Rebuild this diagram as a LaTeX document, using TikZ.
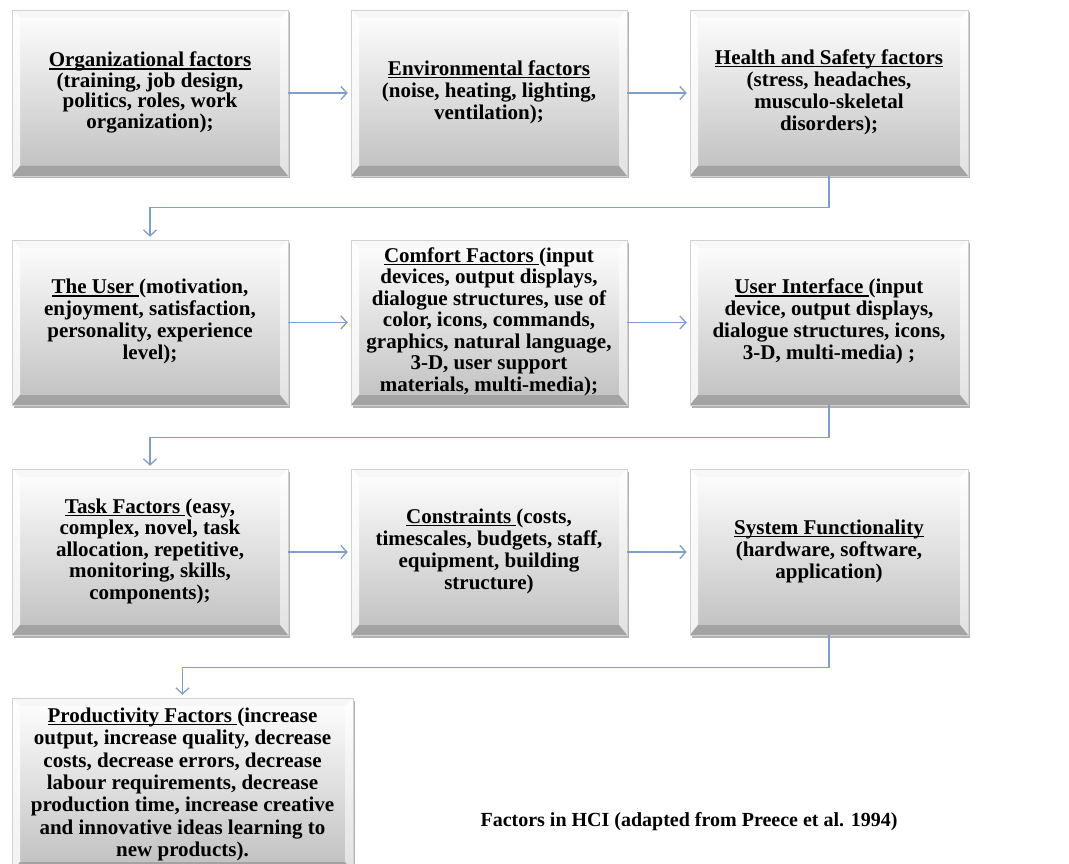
\documentclass[tikz,border=0pt]{standalone}
\usepackage{fontspec}
\setmainfont{Liberation Serif}
\usetikzlibrary{arrows.meta,shadows}
\definecolor{flow}{RGB}{128,158,204}

% underlined heading with a heavy rule
\newcommand\ulin[1]{\setbox0\hbox{#1}\rlap{\rule[-3pt]{\wd0}{1.5pt}}\box0}
% centred block of bold lines, #1 = line spacing in pt
\newcommand\boxlines[2]{{\fontsize{21}{#1}\selectfont\bfseries\begin{tabular}{@{}c@{}}#2\end{tabular}}}

\tikzset{
  bevelbox/.style={
    rectangle, inner sep=0pt, draw=gray!35, line width=0.5pt,
    top color=white, bottom color=gray!50,
    drop shadow={shadow xshift=1.5pt, shadow yshift=-2.5pt, fill=black, opacity=0.3},
    path picture={
      \coordinate (pnw) at (path picture bounding box.north west);
      \coordinate (pne) at (path picture bounding box.north east);
      \coordinate (psw) at (path picture bounding box.south west);
      \coordinate (pse) at (path picture bounding box.south east);
      % top bevel
      \fill[gray!6] (pnw) -- (pne) -- ([shift={(-8pt,-8pt)}]pne) -- ([shift={(8pt,-8pt)}]pnw) -- cycle;
      % left bevel
      \fill[white,opacity=0.8] (pnw) -- ([shift={(8pt,-8pt)}]pnw) -- ([shift={(8pt,10pt)}]psw) -- (psw) -- cycle;
      % right bevel
      \fill[white,opacity=0.55] (pne) -- (pse) -- ([shift={(-8pt,10pt)}]pse) -- ([shift={(-8pt,-8pt)}]pne) -- cycle;
      % bottom bevel
      \fill[gray!72] (psw) -- (pse) -- ([shift={(-8pt,10pt)}]pse) -- ([shift={(8pt,10pt)}]psw) -- cycle;
    }
  },
  flowline/.style={draw=flow, line width=1.3pt,
    -{Straight Barb[length=6pt,width=13pt,line width=1.3pt]}, shorten >=3pt},
  caption/.style={font=\fontsize{20}{24}\selectfont\bfseries}
}

\begin{document}
\begin{tikzpicture}[x=1pt,y=-1pt]
\useasboundingbox (0,0) rectangle (1069,864);
\clip (0,0) rectangle (1069,864);
\fill[white] (0,0) rectangle (1069,864);

% row 1
\node[bevelbox, minimum width=276pt, minimum height=166pt] (org) at (150,93)
  {\boxlines{20}{\ulin{Organizational factors}\\(training, job design,\\politics, roles, work\\organization);}};
\node[bevelbox, minimum width=276pt, minimum height=166pt] (env) at (489,93)
  {\boxlines{22}{\ulin{Environmental factors}\\(noise, heating, lighting,\\ventilation);}};
\node[bevelbox, minimum width=278pt, minimum height=166pt] (hs) at (829,93)
  {\boxlines{22}{\ulin{Health and Safety factors}\\(stress, headaches,\\musculo-skeletal\\disorders);}};

% row 2
\node[bevelbox, minimum width=276pt, minimum height=165pt] (usr) at (150,322.5)
  {\boxlines{22}{\ulin{The User\ }(motivation,\\enjoyment, satisfaction,\\personality, experience\\level);}};
\node[bevelbox, minimum width=276pt, minimum height=165pt] (cf) at (489,322.5)
  {\boxlines{21.5}{\ulin{Comfort Factors\ }(input\\devices, output displays,\\dialogue structures, use of\\color, icons, commands,\\graphics, natural language,\\3-D, user support\\materials, multi-media);}};
\node[bevelbox, minimum width=278pt, minimum height=165pt] (ui) at (829,322.5)
  {\boxlines{22}{\ulin{User Interface\ }(input\\device, output displays,\\dialogue structures, icons,\\3-D, multi-media) ;}};

% row 3
\node[bevelbox, minimum width=276pt, minimum height=166pt] (task) at (150,552)
  {\boxlines{21.5}{\ulin{Task Factors\ }(easy,\\complex, novel, task\\allocation, repetitive,\\monitoring, skills,\\components);}};
\node[bevelbox, minimum width=276pt, minimum height=166pt] (con) at (489,552)
  {\boxlines{22}{\ulin{Constraints\ }(costs,\\timescales, budgets, staff,\\equipment, building\\structure)}};
\node[bevelbox, minimum width=278pt, minimum height=166pt] (sf) at (829,552)
  {\boxlines{22}{\ulin{System Functionality}\\(hardware, software,\\application)}};

% row 4
\node[bevelbox, minimum width=341pt, minimum height=174pt] (prod) at (182.5,785)
  {\boxlines{22.4}{\ulin{Productivity Factors\ }(increase\\output, increase quality, decrease\\costs, decrease errors, decrease\\labour requirements, decrease\\production time, increase creative\\and innovative ideas learning to\\new products).}};

\node[caption] (cap) at (689,822) {Factors in HCI (adapted from Preece et al. 1994)};

% connectors
\draw[flowline] (org.east) -- (env.west);
\draw[flowline] (env.east) -- (hs.west);
\draw[flowline] (hs.south) -- ++(0,31) -| (usr.north);
\draw[flowline] (usr.east) -- (cf.west);
\draw[flowline] (cf.east) -- (ui.west);
\draw[flowline] (ui.south) -- ++(0,32) -| (task.north);
\draw[flowline] (task.east) -- (con.west);
\draw[flowline] (con.east) -- (sf.west);
\draw[flowline] (sf.south) -- ++(0,32) -| (prod.north);
\end{tikzpicture}
\end{document}
